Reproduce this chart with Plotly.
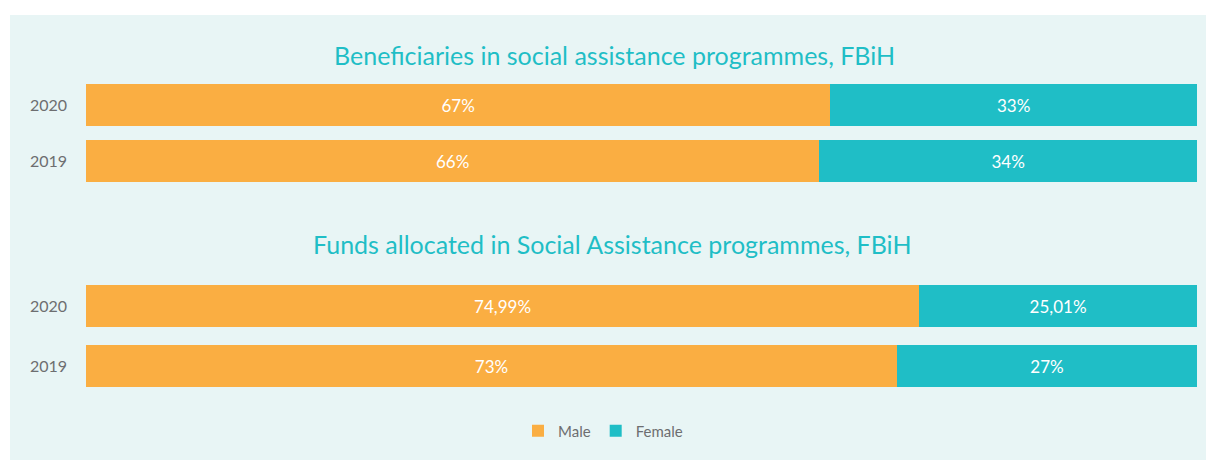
import plotly.graph_objects as go

W, H = 1206, 460

years = ["2020", "2019"]
category_order = ["2019", "2020"]

beneficiaries_male = [67, 66]
beneficiaries_female = [33, 34]

funds_male = [74.99, 73]
funds_female = [25.01, 27]

title_top = "Beneficiaries in social assistance programmes, FBiH"
title_bottom = "Funds allocated in Social Assistance programmes, FBiH"

ORANGE = "#FAAE42"
TEAL = "#1FBEC6"
PANEL = "#E8F5F5"
GREY = "#6D6E70"
FONT = "Lato, 'Open Sans', sans-serif"


def px_x(p):
    return p / W


def px_y(p):
    return 1 - p / H


def pct(v):
    return f"{v:g}".replace(".", ",") + "%"


fig = go.Figure()

panels = [
    ("x", "y", beneficiaries_male, beneficiaries_female, True, 0.75),
    ("x2", "y2", funds_male, funds_female, False, 0.70),
]
for xa, ya, male, female, show, bw in panels:
    fig.add_trace(go.Bar(
        y=years, x=male, orientation="h", name="Male", width=bw,
        marker=dict(color=ORANGE, line=dict(width=0)),
        text=[pct(v) for v in male], textposition="inside",
        insidetextanchor="middle",
        textfont=dict(color="white", size=17, family=FONT),
        xaxis=xa, yaxis=ya, showlegend=show, legendgroup="m",
        hoverinfo="skip",
    ))
    fig.add_trace(go.Bar(
        y=years, x=female, orientation="h", name="Female", width=bw,
        marker=dict(color=TEAL, line=dict(width=0)),
        text=[pct(v) for v in female], textposition="inside",
        insidetextanchor="middle",
        textfont=dict(color="white", size=17, family=FONT),
        xaxis=xa, yaxis=ya, showlegend=show, legendgroup="f",
        hoverinfo="skip",
    ))

# panel background
fig.add_shape(type="rect", xref="paper", yref="paper",
              x0=px_x(10), x1=1.0, y0=0, y1=px_y(15),
              fillcolor=PANEL, line=dict(width=0), layer="below")

xdom = [px_x(86), px_x(1197)]
common_x = dict(range=[0, 100], visible=False, fixedrange=True)
common_y = dict(type="category", categoryorder="array",
                categoryarray=category_order, showgrid=False,
                zeroline=False, showline=False, ticks="",
                ticklabelstandoff=18,
                tickfont=dict(color=GREY, size=16, family=FONT))

fig.update_layout(
    width=W, height=H,
    margin=dict(l=0, r=0, t=0, b=0),
    paper_bgcolor="white",
    plot_bgcolor="rgba(0,0,0,0)",
    barmode="stack",
    xaxis=dict(domain=xdom, anchor="y", **common_x),
    yaxis=dict(domain=[px_y(189), px_y(77)], anchor="x", **common_y),
    xaxis2=dict(domain=xdom, anchor="y2", **common_x),
    yaxis2=dict(domain=[px_y(396), px_y(276)], anchor="x2", **common_y),
    legend=dict(orientation="h", x=0.5, xanchor="center",
                y=px_y(431), yanchor="middle",
                bgcolor="rgba(0,0,0,0)",
                font=dict(color=GREY, size=15, family=FONT),
                itemwidth=30, traceorder="normal"),
    annotations=[
        dict(text=title_top, xref="paper", yref="paper",
             x=px_x(614), y=px_y(55), xanchor="center", yanchor="middle",
             showarrow=False, font=dict(color=TEAL, size=25, family=FONT)),
        dict(text=title_bottom, xref="paper", yref="paper",
             x=px_x(612), y=px_y(244), xanchor="center", yanchor="middle",
             showarrow=False, font=dict(color=TEAL, size=25, family=FONT)),
    ],
)

fig.write_html("out.html")
